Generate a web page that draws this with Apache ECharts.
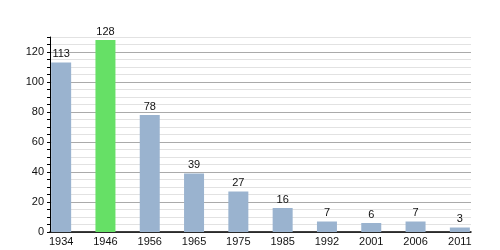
<!DOCTYPE html>
<html><head><meta charset="utf-8">
<script src="https://cdn.jsdelivr.net/npm/echarts@6/dist/echarts.min.js"></script>
<style>html,body{margin:0;padding:0;background:#fff}#c{width:500px;height:250px}</style>
</head><body><div id="c"></div>
<script>
const years = ['1934','1946','1956','1965','1975','1985','1992','2001','2006','2011'];
const values = [113,128,78,39,27,16,7,6,7,3];
const highlightYear = '1946';
const yMax = 130;

const chart = echarts.init(document.getElementById('c'), null, {renderer:'canvas'});
const font = 'Liberation Sans, Arial, sans-serif';
chart.setOption({
  animation:false,
  grid:[
    {left:50,right:29,top:37,bottom:18},
    {left:39,right:18,top:37,bottom:18}
  ],
  xAxis:[
    {gridIndex:0,type:'category',data:years,axisLine:{lineStyle:{color:'#000',width:1.5}},axisTick:{show:false},axisLabel:{show:false},splitLine:{show:false}},
    {gridIndex:1,type:'category',data:years,boundaryGap:true,axisLine:{show:false},axisTick:{show:false},
     axisLabel:{fontSize:11,color:'#111',fontFamily:font,margin:4}}
  ],
  yAxis:[
    {gridIndex:0,type:'value',min:0,max:yMax,interval:5,
     axisLine:{show:true,lineStyle:{color:'#000'}},
     axisTick:{show:true,length:3,lineStyle:{color:'#000'}},
     axisLabel:{fontSize:11,color:'#111',fontFamily:font,margin:6,
       formatter:v=> (v%20===0 ? String(v) : '')},
     splitLine:{show:true,lineStyle:{color:['#aaaaaa','#e2e2e2','#e2e2e2','#e2e2e2'],width:1}}
    },
    {gridIndex:1,type:'value',min:0,max:yMax,show:false,splitLine:{show:false}}
  ],
  series:[{
    type:'bar',xAxisIndex:1,yAxisIndex:1,barWidth:20,
    data: values.map((v,i)=>({value:v,itemStyle:{color: years[i]===highlightYear ? '#66e066' : '#9ab3cf'}})),
    label:{show:true,position:'top',distance:3,fontSize:11,color:'#111',fontFamily:font}
  }]
});
</script></body></html>
